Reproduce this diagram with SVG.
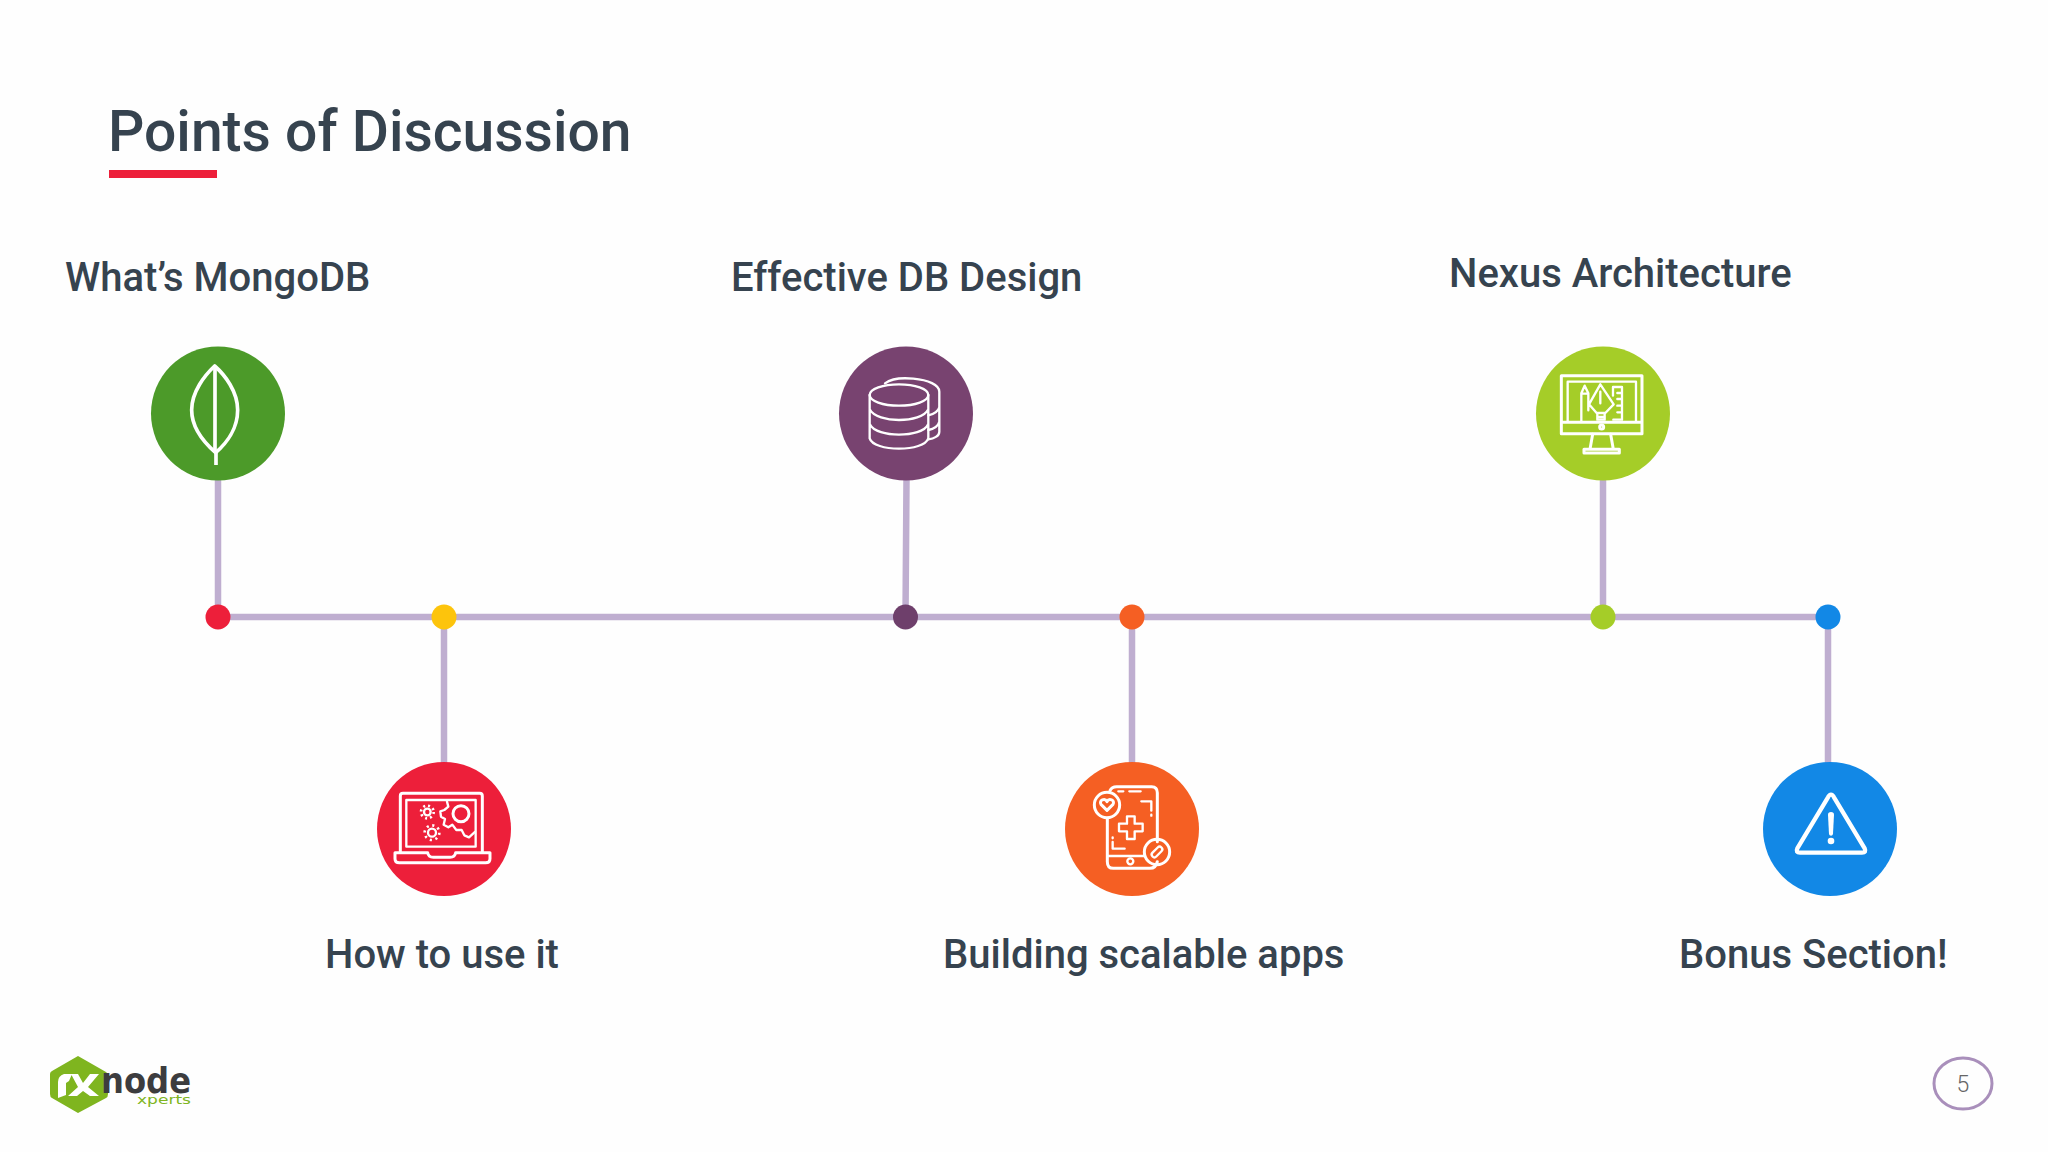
<svg xmlns="http://www.w3.org/2000/svg" width="2048" height="1152" viewBox="0 0 2048 1152">
<style>
.lbl{font-family:Roboto,"Liberation Sans",sans-serif;font-weight:500;font-size:40px;fill:#36434f}
.ic{fill:none;stroke:#fff;stroke-width:9;stroke-linejoin:round;stroke-linecap:round}
.t3{stroke-width:7}
.lnk{stroke:#bfaed0;stroke-width:6.500;fill:none}
</style>
<rect width="2048" height="1152" fill="#fefefe"/>
<g id="title">
<text x="108" y="151" style="font-family:Roboto,'Liberation Sans',sans-serif;font-weight:500;font-size:57px;fill:#36434f">Points of Discussion</text>
<rect x="109" y="170" width="108" height="8" fill="#ed1f3a"/>
</g>
<g id="connectors">
<path class="lnk" d="M218 617H1828"/>
<path class="lnk" d="M218 480V617M906.500 480L905.500 617M1603 480V617M444 617V765M1132 617V765M1828 617V765"/>
</g>
<g id="node-mongodb">
<circle cx="218" cy="413.500" r="67" fill="#4c9a29"/>
<g transform="translate(130 330) scale(.3333)">
<path class="ic" style="stroke-width:11" d="M254 108C225 135 185 185 185 240C185 295 225 340 257 368C290 340 323 295 323 240C323 185 285 135 254 108Z"/>
<path class="ic" style="stroke-width:11;stroke-linecap:butt" d="M255 108V368M258 368V405"/>
</g>
<circle cx="218" cy="617" r="12.500" fill="#ed1f3a"/>
<text class="lbl" x="65" y="291">What’s MongoDB</text>
</g>
<g id="node-how-to">
<circle cx="444" cy="829" r="67" fill="#ed1f3a"/>
<g transform="translate(365 750) scale(.3333)">
<path class="ic" d="M106 305V138Q106 130 114 130H344Q352 130 352 138V305"/>
<path class="ic t3" d="M124 290V150H332V290Z"/>
<path class="ic" d="M90 308H188Q190 322 205 322H255Q270 322 272 308H375V326Q375 338 362 338H103Q90 338 90 326Z"/>
<path class="ic t3" d="M246 155L250 170L238 180L226 184L228 200L240 207L236 224L250 232L262 224L274 240L290 240L298 256L312 262L330 246"/>
<circle class="ic" cx="288" cy="191" r="24"/>
<circle class="ic t3" cx="187" cy="186" r="10"/>
<circle class="ic" style="stroke-linecap:butt;stroke-width:8" cx="187" cy="186" r="19" stroke-dasharray="6 8.920"/>
<circle class="ic t3" cx="201" cy="248" r="12"/>
<circle class="ic" style="stroke-linecap:butt;stroke-width:8" cx="201" cy="248" r="22" stroke-dasharray="6.500 10.780"/>
</g>
<circle cx="444" cy="617" r="12.500" fill="#fdc40c"/>
<text class="lbl" x="325" y="968">How to use it</text>
</g>
<g id="node-db-design">
<circle cx="906" cy="413.500" r="67" fill="#784370"/>
<g transform="translate(820 330) scale(.3333)">
<ellipse class="ic t3" cx="237" cy="195" rx="88" ry="32"/>
<path class="ic t3" d="M149 195V325C155 345 195 356 237 356C280 356 318 345 325 325V195M149 238C160 260 200 270 237 270C275 270 315 260 325 238M149 282C160 305 200 314 237 314C275 314 315 305 325 282"/>
<path class="ic t3" d="M195 160C215 145 250 143 280 146C325 150 358 165 358 185V305C358 318 342 326 325 328M358 232C355 245 342 252 325 256M358 275C355 288 342 296 325 300"/>
</g>
<circle cx="905.500" cy="617" r="12.500" fill="#6e3f6b"/>
<text class="lbl" x="731" y="291">Effective DB Design</text>
</g>
<g id="node-building">
<circle cx="1132" cy="829" r="67" fill="#f55f23"/>
<g transform="translate(1050 750) scale(.3333)">
<path class="ic" d="M180 122Q185 110 200 110H305Q322 110 322 128V275M322 335Q318 355 300 355H190Q172 355 172 335V205"/>
<path class="ic t3" d="M172 318H285M205 124H220M238 124H272M274 154H304V182M304 194V197M188 262V265M188 276V296H224"/>
<circle class="ic t3" cx="241" cy="334" r="9"/>
<circle class="ic" cx="171" cy="165" r="38"/>
<path class="ic" d="M171 181L153 163C146 150 165 143 171 155C177 143 196 150 189 163Z"/>
<path class="ic t3" d="M231 199H254V221H278V244H254V267H231V244H207V221H231Z"/>
<circle class="ic" cx="321" cy="306" r="38"/>
<rect class="ic t3" x="302" y="298" width="38" height="16" rx="8" transform="rotate(-45 321 306)"/>
</g>
<circle cx="1132" cy="617" r="12.500" fill="#f55f23"/>
<text class="lbl" x="943" y="968">Building scalable apps</text>
</g>
<g id="node-nexus">
<circle cx="1603" cy="413.500" r="67" fill="#a5cd28"/>
<g transform="translate(1520 335) scale(.3333)">
<path class="ic" d="M124 122H366V296H124ZM124 262H366"/>
<path class="ic t3" d="M143 258V140H348V258"/>
<circle class="ic" cx="245" cy="276" r="6"/>
<path class="ic" d="M218 298L210 343H280L272 298M192 354V343H298V354Z"/>
<path class="ic t3" d="M184 258V175L194 152L205 175V226M184 176H205M241 148L207 208L230 234H256L281 208ZM241 170V205M232 234V254H254V234M232 246H254"/>
<path class="ic t3" d="M279 182V156H306V254H280M292 174H306M292 192H306M292 212H306M292 232H306"/>
</g>
<circle cx="1603" cy="617" r="12.500" fill="#a5cd28"/>
<text class="lbl" x="1449" y="287">Nexus Architecture</text>
</g>
<g id="node-bonus">
<circle cx="1830" cy="829" r="67" fill="#1288e6"/>
<g transform="translate(1750 750) scale(.3333)">
<path class="ic" style="stroke-width:13" d="M243 134Q248 134 252 142L344 295Q350 308 336 308H150Q136 308 142 295L234 142Q238 134 243 134Z"/>
<path d="M234 194Q234 186 243 186Q252 186 252 194L249 252Q248 257 243 257Q238 257 237 252Z" fill="#fff"/>
<circle cx="243" cy="273" r="10" fill="#fff"/>
</g>
<circle cx="1828" cy="617" r="12.500" fill="#1288e6"/>
<text class="lbl" x="1679" y="968">Bonus Section!</text>
</g>
<g id="logo">
<path d="M78 1056L106 1072Q108 1073 108 1076V1094Q108 1097 106 1098L78 1113L52 1098Q50 1097 50 1094V1074Q50 1072 52 1071Z" fill="#7fb51f"/>
<path d="M58 1098V1082Q58 1076 64 1074L72 1074L69 1081L66 1083V1095ZM71 1074H78L83 1083L90 1074H99L88 1087L99 1096H90L83 1091L77 1096H68L78 1087Z" fill="#fff"/>
<text x="101" y="1093" textLength="90" lengthAdjust="spacingAndGlyphs" style="font-family:'DejaVu Sans',sans-serif;font-weight:700;font-size:36px;fill:#3c3c3e">node</text>
<text x="137" y="1104" textLength="54" lengthAdjust="spacingAndGlyphs" style="font-family:'DejaVu Sans',sans-serif;font-size:12px;fill:#7fb51f">xperts</text>
</g>
<g id="page-number">
<ellipse cx="1963" cy="1083.500" rx="29" ry="25.500" fill="none" stroke="#a98fbb" stroke-width="3"/>
<text x="1963" y="1092" text-anchor="middle" style="font-family:Roboto,'Liberation Sans',sans-serif;font-weight:300;font-size:23px;fill:#666">5</text>
</g>
</svg>
